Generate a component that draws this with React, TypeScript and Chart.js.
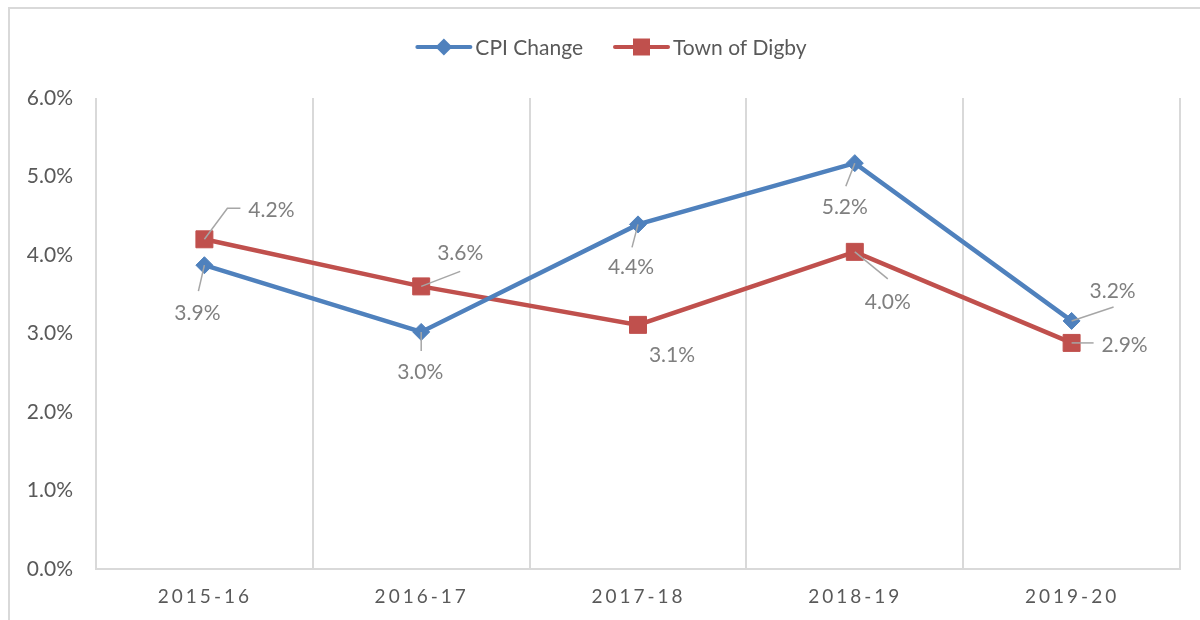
import React, { useEffect, useRef } from 'react';
import { Chart, registerables } from 'chart.js';

Chart.register(...registerables);

const categories = ['2015-16', '2016-17', '2017-18', '2018-19', '2019-20'];
const cpiChange = [3.87, 3.02, 4.39, 5.17, 3.16];
const townOfDigby = [4.2, 3.6, 3.11, 4.04, 2.88];
const seriesNames = ['CPI Change', 'Town of Digby'];
const yMin = 0;
const yMax = 6;
const yStep = 1;

// label placement offsets relative to the point (text centre, leader path)
const cpiPlacement = [
  { text: [-7, 48], leader: [[-6, 26]] },
  { text: [-1, 40], leader: [[0, 19]] },
  { text: [-7, 43], leader: [[-6, 23]] },
  { text: [-10, 44], leader: [[-9, 23]] },
  { text: [41, -30], leader: [[42, -14]] },
];
const digbyPlacement = [
  { text: [67, -29], leader: [[23, -31], [36, -31]] },
  { text: [39, -33], leader: [[39, -15]] },
  { text: [34, 30], leader: [] },
  { text: [33, 50], leader: [[33, 27]] },
  { text: [53, 2], leader: [[22, 0]] },
];

const BLUE = '#4f81bd';
const RED = '#c0504d';
const GRID = '#d9d9d9';
const AXIS_TEXT = '#595959';
const LABEL_TEXT = '#7f7f7f';
const LEADER = '#a6a6a6';
const FONT = 'Lato, "Open Sans", sans-serif';

function drawMarker(ctx: CanvasRenderingContext2D, style: string, x: number, y: number, color: string) {
  ctx.save();
  ctx.fillStyle = color;
  ctx.strokeStyle = color;
  ctx.beginPath();
  if (style === 'rectRot') {
    const r = 8.5;
    ctx.moveTo(x, y - r);
    ctx.lineTo(x + r, y);
    ctx.lineTo(x, y + r);
    ctx.lineTo(x - r, y);
    ctx.closePath();
  } else {
    const h = 8.5;
    ctx.rect(x - h, y - h, 2 * h, 2 * h);
  }
  ctx.fill();
  ctx.restore();
}

const framePlugin = {
  id: 'frame',
  beforeDraw(chart: any) {
    const ctx = chart.ctx as CanvasRenderingContext2D;
    ctx.save();
    ctx.fillStyle = '#ffffff';
    ctx.fillRect(0, 0, chart.width, chart.height);
    ctx.strokeStyle = GRID;
    ctx.lineWidth = 2;
    ctx.beginPath();
    ctx.moveTo(9, chart.height + 5);
    ctx.lineTo(9, 8);
    ctx.lineTo(chart.width + 5, 8);
    ctx.stroke();
    ctx.restore();
  },
};

const dataLabelPlugin = {
  id: 'dataLabelsCustom',
  afterDatasetsDraw(chart: any) {
    const ctx = chart.ctx as CanvasRenderingContext2D;
    const placements = [cpiPlacement, digbyPlacement];
    chart.data.datasets.forEach((ds: any, di: number) => {
      const meta = chart.getDatasetMeta(di);
      meta.data.forEach((pt: any, i: number) => {
        const pl = placements[di][i];
        const x = pt.x;
        const y = pt.y;
        if (pl.leader.length) {
          ctx.save();
          ctx.strokeStyle = LEADER;
          ctx.lineWidth = 1.5;
          ctx.beginPath();
          ctx.moveTo(x, y);
          pl.leader.forEach((p: number[]) => ctx.lineTo(x + p[0], y + p[1]));
          ctx.stroke();
          ctx.restore();
        }
        ctx.save();
        ctx.fillStyle = LABEL_TEXT;
        ctx.font = `21px ${FONT}`;
        ctx.textAlign = 'center';
        ctx.textBaseline = 'middle';
        const v = ds.data[i] as number;
        ctx.fillText(v.toFixed(1) + '%', x + pl.text[0], y + pl.text[1]);
        ctx.restore();
      });
    });
  },
};

function drawSpaced(ctx: CanvasRenderingContext2D, text: string, cx: number, cy: number, spacing: number) {
  const chars = text.split('');
  const widths = chars.map((c) => ctx.measureText(c).width);
  const total = widths.reduce((a, b) => a + b, 0) + spacing * (chars.length - 1);
  let x = cx - total / 2;
  ctx.textAlign = 'left';
  chars.forEach((c, i) => {
    ctx.fillText(c, x, cy);
    x += widths[i] + spacing;
  });
}

const overlayPlugin = {
  id: 'overlay',
  afterDraw(chart: any) {
    const ctx = chart.ctx as CanvasRenderingContext2D;
    // x axis labels with letter spacing
    const xScale = chart.scales.x;
    ctx.save();
    ctx.fillStyle = AXIS_TEXT;
    ctx.font = `19px ${FONT}`;
    ctx.textBaseline = 'middle';
    chart.data.labels.forEach((lab: string, i: number) => {
      const px = xScale.getPixelForTick(i);
      drawSpaced(ctx, lab, px - 1, xScale.top + 28, 3);
    });
    ctx.restore();

    // legend
    ctx.save();
    ctx.font = `21px ${FONT}`;
    ctx.textBaseline = 'middle';
    ctx.textAlign = 'left';
    const lineLen = 53;
    const gap = 5;
    const itemGap = 32;
    const styles = ['rectRot', 'rect'];
    const colors = [BLUE, RED];
    const widths = seriesNames.map((n) => lineLen + gap + ctx.measureText(n).width);
    const total = widths.reduce((a, b) => a + b, 0) + itemGap * (seriesNames.length - 1);
    let x = 612 - total / 2;
    const y = 47;
    seriesNames.forEach((name, i) => {
      ctx.strokeStyle = colors[i];
      ctx.lineWidth = 4;
      ctx.lineCap = 'round';
      ctx.beginPath();
      ctx.moveTo(x, y);
      ctx.lineTo(x + lineLen, y);
      ctx.stroke();
      drawMarker(ctx, styles[i], x + lineLen / 2, y, colors[i]);
      ctx.fillStyle = AXIS_TEXT;
      ctx.fillText(name, x + lineLen + gap, y + 1);
      x += widths[i] + itemGap;
    });
    ctx.restore();
  },
};

export default function App() {
  const ref = useRef<HTMLCanvasElement | null>(null);
  useEffect(() => {
    if (!ref.current) return;
    const chart = new Chart(ref.current, {
      type: 'line',
      data: {
        labels: categories,
        datasets: [
          {
            label: seriesNames[0],
            data: cpiChange,
            borderColor: BLUE,
            backgroundColor: BLUE,
            borderWidth: 4.5,
            pointStyle: 'rectRot',
            pointRadius: 8.5,
            pointBorderWidth: 1,
            pointBackgroundColor: BLUE,
            pointBorderColor: BLUE,
            tension: 0,
          },
          {
            label: seriesNames[1],
            data: townOfDigby,
            borderColor: RED,
            backgroundColor: RED,
            borderWidth: 4.5,
            pointStyle: 'rect',
            pointRadius: 12,
            pointBorderWidth: 1,
            pointBackgroundColor: RED,
            pointBorderColor: RED,
            tension: 0,
          },
        ],
      },
      options: {
        responsive: false,
        animation: false,
        devicePixelRatio: 1,
        layout: { padding: { top: 98, right: 20, left: 0, bottom: 0 } },
        plugins: {
          legend: { display: false },
          tooltip: { enabled: false },
          title: { display: false },
        },
        scales: {
          x: {
            type: 'category',
            offset: true,
            grid: { display: true, offset: true, color: GRID, lineWidth: 2, drawTicks: false },
            border: { display: true, color: GRID, width: 2 },
            ticks: { display: false },
            afterFit: (scale: any) => {
              scale.height = 51;
            },
          },
          y: {
            min: yMin,
            max: yMax,
            grid: { display: false, drawTicks: false },
            border: { display: false },
            ticks: {
              stepSize: yStep,
              padding: 23,
              color: AXIS_TEXT,
              font: { family: FONT, size: 21 },
              callback: (v: any) => Number(v).toFixed(1) + '%',
            },
            afterFit: (scale: any) => {
              scale.width = 96;
            },
          },
        },
      },
      plugins: [framePlugin, dataLabelPlugin, overlayPlugin],
    });
    return () => chart.destroy();
  }, []);
  return (
    <canvas
      ref={ref}
      width={1200}
      height={620}
      style={{ position: 'fixed', left: 0, top: 0, width: 1200, height: 620 }}
    />
  );
}
